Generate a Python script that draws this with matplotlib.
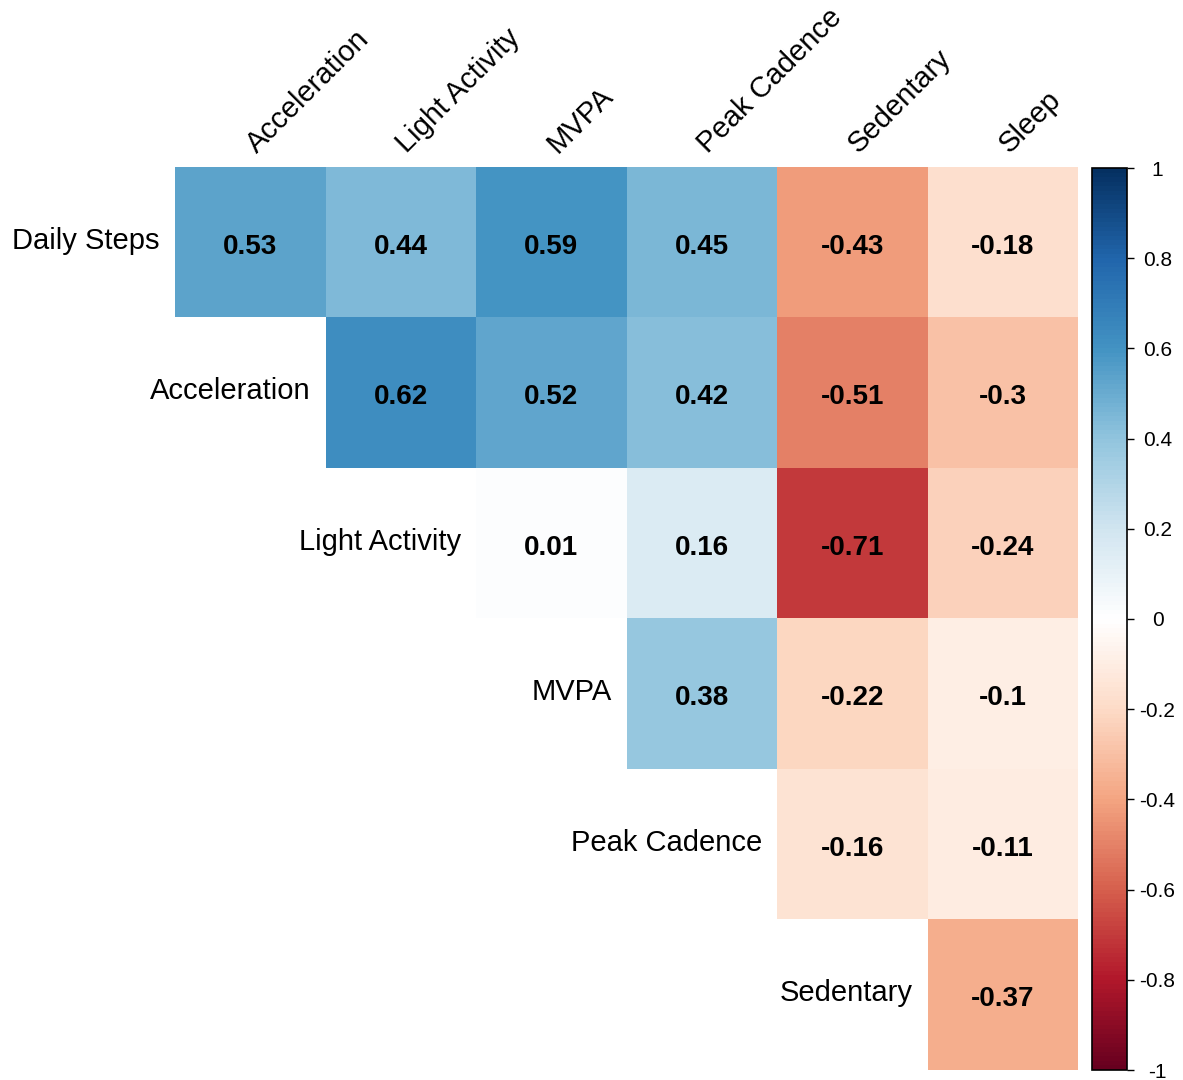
import matplotlib.pyplot as plt
from matplotlib.colors import LinearSegmentedColormap
import numpy as np

plt.rcParams['font.family'] = ['Liberation Sans', 'DejaVu Sans']

# Données de la matrice de corrélation (triangle supérieur)
row_labels = ["Daily Steps", "Acceleration", "Light Activity", "MVPA", "Peak Cadence", "Sedentary"]
col_labels = ["Acceleration", "Light Activity", "MVPA", "Peak Cadence", "Sedentary", "Sleep"]
r_daily_steps = [0.53, 0.44, 0.59, 0.45, -0.43, -0.18]
r_acceleration = [None, 0.62, 0.52, 0.42, -0.51, -0.3]
r_light = [None, None, 0.01, 0.16, -0.71, -0.24]
r_mvpa = [None, None, None, 0.38, -0.22, -0.1]
r_peak = [None, None, None, None, -0.16, -0.11]
r_sedentary = [None, None, None, None, None, -0.37]
cbar_ticks = [-1, -0.8, -0.6, -0.4, -0.2, 0, 0.2, 0.4, 0.6, 0.8, 1]

rows = [r_daily_steps, r_acceleration, r_light, r_mvpa, r_peak, r_sedentary]
mat = np.array([[np.nan if v is None else v for v in r] for r in rows], dtype=float)
n_r, n_c = mat.shape

# Palette RdBu façon corrplot (centre blanc)
rdbu = ["#67001F", "#B2182B", "#D6604D", "#F4A582", "#FDDBC7", "#FFFFFF",
        "#D1E5F0", "#92C5DE", "#4393C3", "#2166AC", "#053061"]
cmap = LinearSegmentedColormap.from_list("corr_rdbu", rdbu, N=200)

W, H = 1183, 1080
fig = plt.figure(figsize=(W / 100, H / 100), dpi=100)

# Axe principal en coordonnées pixels
x0, x1, y0, y1 = 175, 1078, 167, 1070
ax = fig.add_axes([x0 / W, 1 - y1 / H, (x1 - x0) / W, (y1 - y0) / H])
mesh = ax.pcolormesh(np.ma.masked_invalid(mat), cmap=cmap, vmin=-1, vmax=1)
ax.set_xlim(0, n_c)
ax.set_ylim(n_r, 0)
ax.axis('off')

for i in range(n_r):
    for j in range(n_c):
        v = mat[i, j]
        if np.isnan(v):
            continue
        ax.text(j + 0.5, i + 0.53, f"{v:g}", ha='center', va='center',
                fontsize=20, fontweight='bold', color='black')

# Étiquettes de lignes (à gauche de la diagonale)
for i, lab in enumerate(row_labels):
    ax.text(i - 0.1, i + 0.49, lab, ha='right', va='center', fontsize=21,
            color='black', clip_on=False)

# Étiquettes de colonnes (inclinées à 45°)
for j, lab in enumerate(col_labels):
    ax.text(j + 0.57, -0.06, lab, ha='left', va='bottom', rotation=45,
            rotation_mode='anchor', fontsize=21, color='black', clip_on=False)

# Barre de couleur
cax = fig.add_axes([1092 / W, 1 - 1070 / H, 35 / W, 902 / H])
cb = fig.colorbar(mesh, cax=cax, ticks=cbar_ticks)
cb.outline.set_linewidth(1.2)
cax.tick_params(axis='y', length=5, width=1, pad=17, labelsize=15)
cax.set_yticklabels([f"{t:g}" for t in cbar_ticks], ha='center')

fig.savefig('out.png', dpi=100)
